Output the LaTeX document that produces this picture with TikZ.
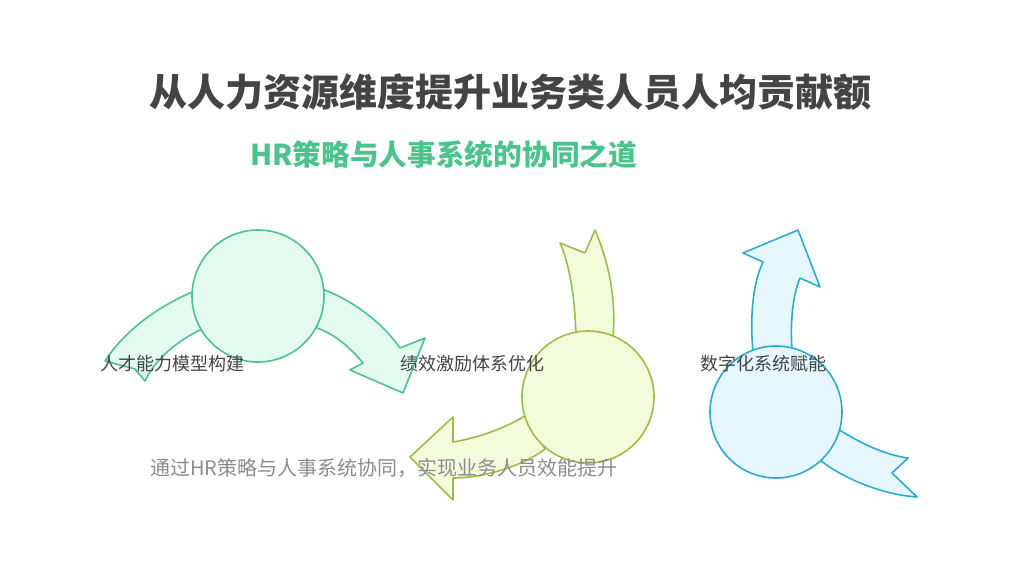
\documentclass[tikz,border=0pt]{standalone}
\usepackage{fontspec}
\setmainfont{Noto Sans CJK SC}
\definecolor{grnline}{HTML}{4CC38C}
\definecolor{grnfill}{HTML}{E3FCEF}
\definecolor{limline}{HTML}{97BE48}
\definecolor{limfill}{HTML}{F4FDDB}
\definecolor{bluline}{HTML}{2AACD0}
\definecolor{blufill}{HTML}{E6F8FD}
\definecolor{txtdark}{HTML}{444444}
\usetikzlibrary{positioning}
\begin{document}
\begin{tikzpicture}[x=1pt,y=-1pt,line join=round,
      hub/.style={circle,draw,line width=1.6pt,minimum size=132pt,inner sep=0pt},
      band/.style={draw,line width=1.6pt},
      every node/.style={inner sep=0pt},
      lbl/.style={anchor=west,text=txtdark,font=\fontsize{18}{20}\selectfont}]
      \useasboundingbox (0,0) rectangle (1024,576);
      % arrow bands
      \path[band,draw=grnline,fill=grnfill]
        (322,289) .. controls (352,300) and (382,322) .. (400,348)
        -- (425,338) -- (403,393) -- (350,370) -- (363,363)
        .. controls (348,345) and (332,333) .. (317,328) -- cycle;
      \path[band,draw=grnline,fill=grnfill]
        (195,291) .. controls (160,305) and (125,330) .. (105,361)
        -- (135,369) -- (145,381)
        .. controls (155,360) and (175,342) .. (202,329) -- cycle;
      \path[band,draw=limline,fill=limfill]
        (576,336) .. controls (575,300) and (570,265) .. (560,243)
        -- (585,253) -- (595,230)
        .. controls (610,265) and (616,300) .. (613,338) -- cycle;
      \path[band,draw=limline,fill=limfill]
        (525,416) .. controls (505,428) and (478,438) .. (453,442)
        -- (453,417) -- (410,457) -- (453,500) -- (453,478)
        .. controls (480,478) and (520,468) .. (545,449) -- cycle;
      \path[band,draw=bluline,fill=blufill]
        (753,352) .. controls (750,320) and (752,285) .. (763,262)
        -- (743,253) -- (798,230) -- (820,287) -- (800,278)
        .. controls (793,295) and (790,320) .. (792,350) -- cycle;
      \path[band,draw=bluline,fill=blufill]
        (838,429) .. controls (860,443) and (885,455) .. (908,458)
        -- (892,473) -- (917,497)
        .. controls (885,495) and (845,480) .. (820,460) -- cycle;
      % hubs
      \node[hub,draw=grnline,fill=grnfill] (c_1) at (258,296) {};
      \node[hub,draw=limline,fill=limfill] (c_2) at (588,397) {};
      \node[hub,draw=bluline,fill=blufill] (c_3) at (776,412) {};
      % texts
      \node[text=txtdark,font=\fontsize{38}{40}\selectfont\bfseries] (title) at (510,92) {从人力资源维度提升业务类人员人均贡献额};
      \node[anchor=west,text=grnline,font=\fontsize{28.7}{30}\selectfont\bfseries] (sub) at (250,155) {HR策略与人事系统的协同之道};
      \node[lbl] (l_1) at (100,364) {人才能力模型构建};
      \node[lbl] (l_2) at (400,364) {绩效激励体系优化};
      \node[lbl] (l_3) at (700,364) {数字化系统赋能};
      \node[anchor=west,text=black!45,font=\fontsize{20}{22}\selectfont] (foot) at (150,468) {通过HR策略与人事系统协同，实现业务人员效能提升};
    \end{tikzpicture}
\end{document}
